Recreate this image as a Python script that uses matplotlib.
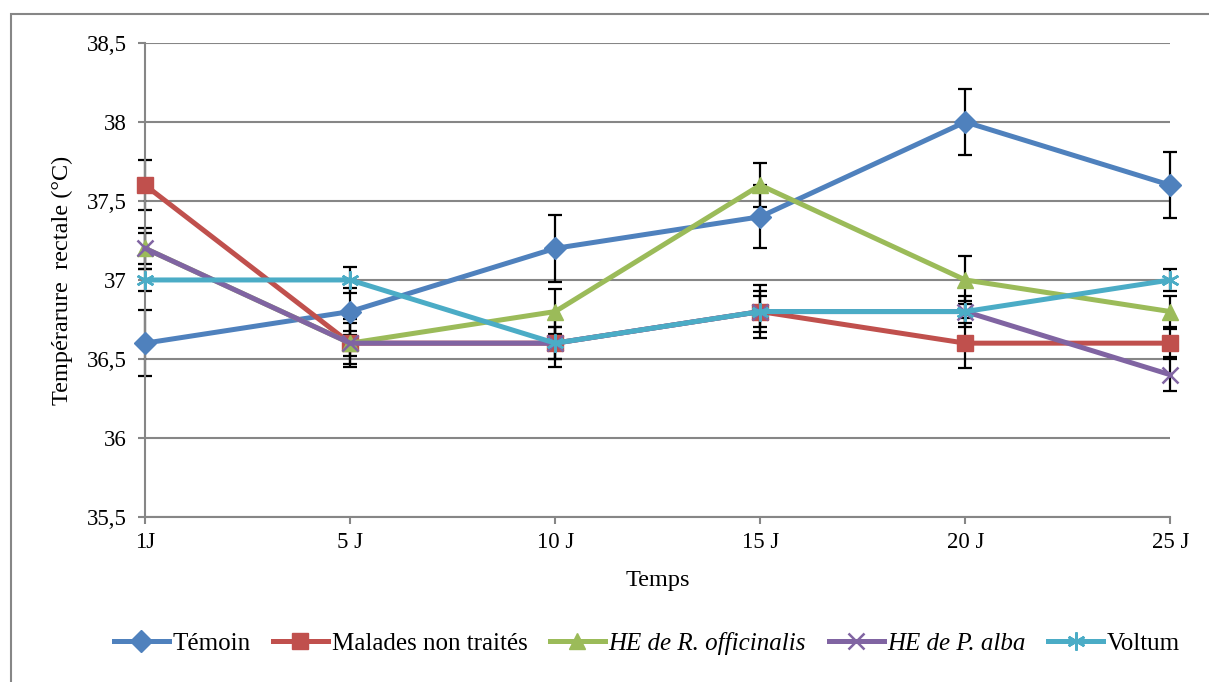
import matplotlib.pyplot as plt
from matplotlib.patches import Rectangle

days = ["1J", "5 J", "10 J", "15 J", "20 J", "25 J"]

temoin = [36.6, 36.8, 37.2, 37.4, 38.0, 37.6]
temoin_err = [0.21, 0.15, 0.21, 0.2, 0.21, 0.21]
malades = [37.6, 36.6, 36.6, 36.8, 36.6, 36.6]
malades_err = [0.16, 0.08, 0.1, 0.13, 0.16, 0.09]
officinalis = [37.2, 36.6, 36.8, 37.6, 37.0, 36.8]
officinalis_err = [0.13, 0.13, 0.14, 0.14, 0.15, 0.1]
alba = [37.2, 36.6, 36.6, 36.8, 36.8, 36.4]
alba_err = [0.1, 0.15, 0.15, 0.17, 0.1, 0.1]
voltum = [37.0, 37.0, 36.6, 36.8, 36.8, 37.0]
voltum_err = [0.07, 0.08, 0.1, 0.1, 0.07, 0.07]

labels = ["Témoin", "Malades non traités", "HE de R. officinalis",
          "HE de P. alba", "Voltum"]
colors = ["#4F81BD", "#C0504D", "#9BBB59", "#8064A2", "#4BACC6"]
markers = ["D", "s", "^", "x", (6, 2, 0)]
sizes = [11, 11.5, 12, 12, 13]

plt.rcParams["font.family"] = ["Liberation Serif", "DejaVu Serif"]

fig = plt.figure(figsize=(12.09, 6.82), dpi=100)
ax = fig.add_axes([0.12, 0.242, 0.848, 0.695])

# outer frame like the Excel chart area
fig.patches.append(Rectangle((0.0095, -0.1), 1.2, 1.08, transform=fig.transFigure,
                             fill=False, edgecolor="#868686", linewidth=1.5))

x = list(range(len(days)))
series = [(temoin, temoin_err), (malades, malades_err),
          (officinalis, officinalis_err), (alba, alba_err),
          (voltum, voltum_err)]
handles = []
for (vals, err), lab, col, mk, ms in zip(series, labels, colors, markers, sizes):
    eb = ax.errorbar(x, vals, yerr=err, fmt="none", ecolor="black",
                     elinewidth=1.6, capsize=5, capthick=1.6, zorder=2)
    for art in eb.lines[1] + eb.lines[2]:
        art.set_clip_on(False)
    thin = mk == "x" or isinstance(mk, tuple)
    h, = ax.plot(x, vals, color=col, linewidth=3.6, marker=mk, markersize=ms,
                 markeredgewidth=1.8 if thin else 1,
                 markeredgecolor=col, markerfacecolor=col, label=lab,
                 zorder=3, clip_on=False)
    handles.append(h)

ax.set_xlim(0, len(days) - 1)
ax.set_ylim(35.5, 38.5)
ax.set_yticks([35.5, 36, 36.5, 37, 37.5, 38, 38.5])
ax.set_yticklabels(["35,5", "36", "36,5", "37", "37,5", "38", "38,5"])
ax.set_xticks(x)
ax.set_xticklabels(days)
ax.tick_params(axis="both", labelsize=16.5, color="#868686", length=5, width=1.5)
ax.tick_params(axis="y", pad=8)
ax.tick_params(axis="x", pad=6)
ax.grid(axis="y", color="#868686", linewidth=1.5)
ax.set_axisbelow(True)
for s in ["top", "right"]:
    ax.spines[s].set_visible(False)
for s in ["left", "bottom"]:
    ax.spines[s].set_color("#868686")
    ax.spines[s].set_linewidth(1.5)

ax.set_xlabel("Temps", fontsize=17.5, labelpad=12)
ax.set_ylabel("Tempérarure  rectale (°C)", fontsize=17.5, labelpad=10)

leg = fig.legend(handles=handles, loc="center", bbox_to_anchor=(0.535, 0.057),
                 ncol=5, frameon=False, fontsize=18, handlelength=2.2,
                 handletextpad=0.15, columnspacing=0.9)
for t in leg.get_texts():
    if t.get_text().startswith("HE"):
        t.set_fontstyle("italic")

fig.savefig("out.png", dpi=100)
